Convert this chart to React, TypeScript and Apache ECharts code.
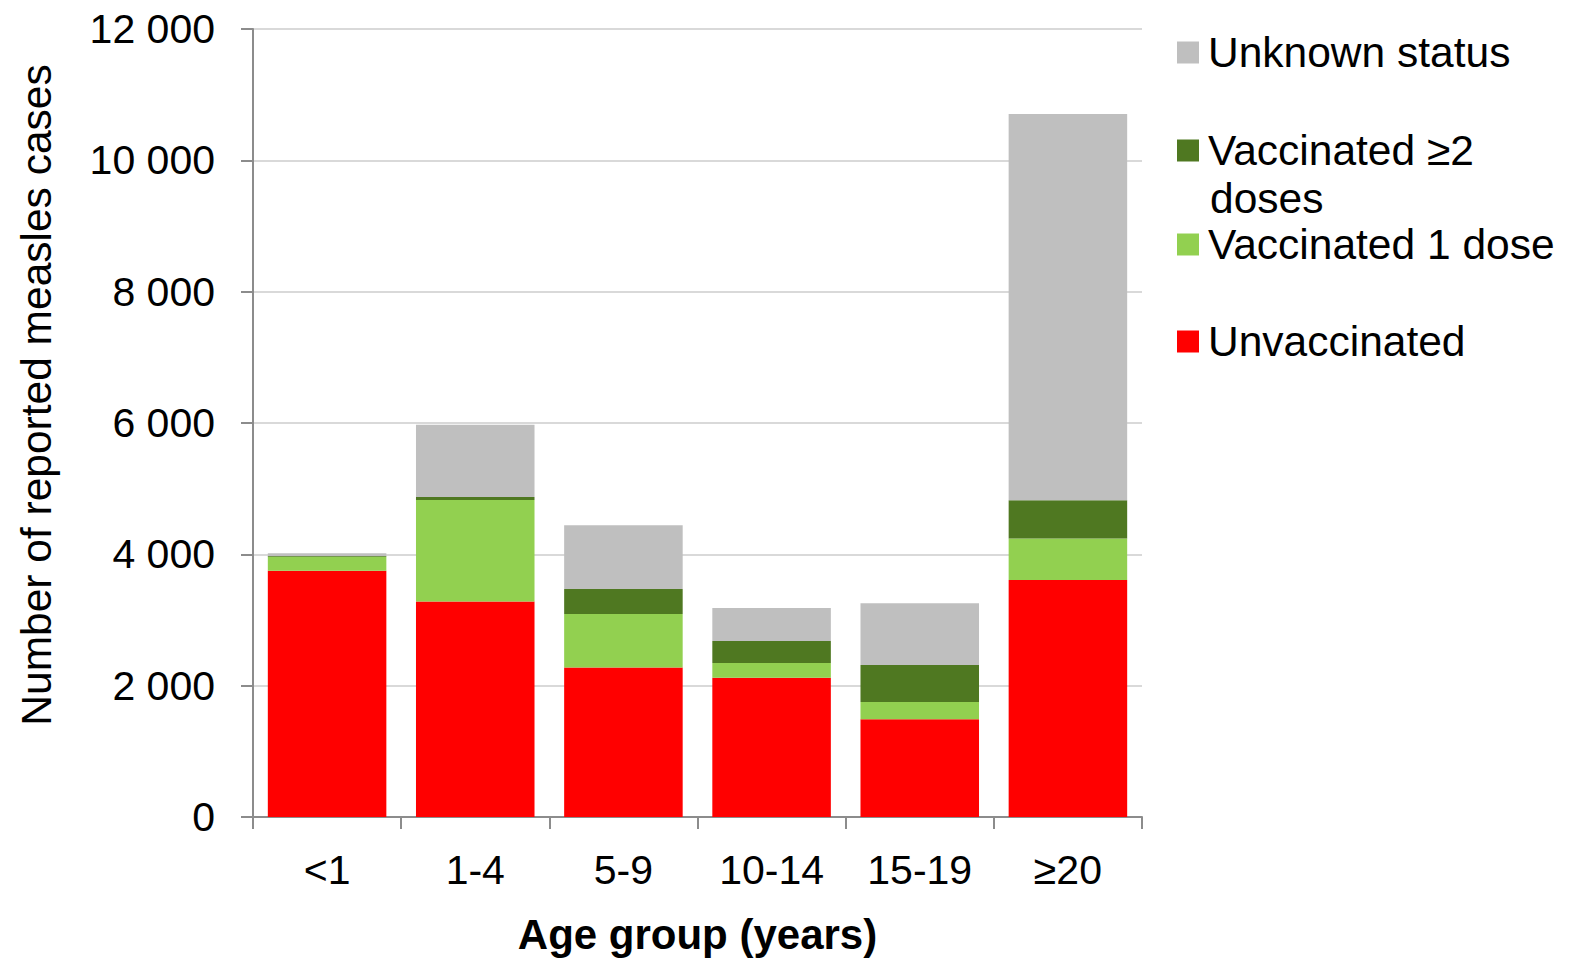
import React, { useEffect, useRef } from "react";
import * as echarts from "echarts";

const categories = ["<1", "1-4", "5-9", "10-14", "15-19", "≥20"];
const unvaccinated = [3750, 3280, 2275, 2120, 1490, 3610];
const vaccinated1 = [215, 1547, 815, 225, 260, 630];
const vaccinated2 = [10, 46, 381, 335, 565, 585];
const unknownStatus = [40, 1100, 970, 503, 940, 5880];

const seriesNames = ["Unvaccinated", "Vaccinated 1 dose", "Vaccinated ≥2 doses", "Unknown status"];
const seriesColors = ["#ff0000", "#92d050", "#4f7821", "#bfbfbf"];
const seriesValues = [unvaccinated, vaccinated1, vaccinated2, unknownStatus];

const FONT = "'Liberation Sans', Arial, sans-serif";

export default function App() {
  const ref = useRef<HTMLDivElement>(null);
  useEffect(() => {
    document.body.style.margin = "0";
    const chart = echarts.init(ref.current!, null, { renderer: "svg" });
    const legendTops: Record<string, number> = {
      "Unknown status": 31,
      "Vaccinated ≥2 doses": 129,
      "Vaccinated 1 dose": 223,
      Unvaccinated: 320,
    };
    const legends = seriesNames.map((n) => ({
      data: [n],
      left: 1177,
      top: legendTops[n],
      padding: 0,
      icon: "rect",
      itemWidth: 22,
      itemHeight: 22,
      selectedMode: false,
      formatter: (name: string) => (name === "Vaccinated ≥2 doses" ? "Vaccinated ≥2" : name),
      textStyle: { fontFamily: FONT, fontSize: 42.5, color: "#000", padding: [0, 0, 0, 4] },
    }));
    chart.setOption({
      animation: false,
      textStyle: { fontFamily: FONT },
      grid: { left: 253, right: 433, top: 29, bottom: 149, containLabel: false },
      legend: legends,
      graphic: [
        {
          type: "text",
          left: 1210,
          top: 177,
          style: { text: "doses", font: `42.5px ${FONT}`, fill: "#000" },
        },
        {
          type: "text",
          x: 36,
          y: 395,
          rotation: Math.PI / 2,
          style: {
            text: "Number of reported measles cases",
            font: `42.5px ${FONT}`,
            fill: "#000",
            align: "center",
            verticalAlign: "middle",
          },
        },
      ],
      xAxis: {
        type: "category",
        data: categories,
        name: "Age group (years)",
        nameLocation: "middle",
        nameGap: 96,
        nameTextStyle: { fontFamily: FONT, fontSize: 42, fontWeight: "bold", color: "#000" },
        axisLine: { lineStyle: { color: "#8c8c8c", width: 2 } },
        axisTick: { show: true, length: 12, lineStyle: { color: "#8c8c8c", width: 2 } },
        axisLabel: { fontFamily: FONT, fontSize: 41, color: "#000", margin: 32 },
      },
      yAxis: {
        type: "value",
        min: 0,
        max: 12000,
        interval: 2000,
        axisLine: { show: true, lineStyle: { color: "#8c8c8c", width: 2 } },
        axisTick: { show: true, length: 12, lineStyle: { color: "#8c8c8c", width: 2 } },
        splitLine: { lineStyle: { color: "#d9d9d9", width: 2 } },
        axisLabel: {
          fontFamily: FONT,
          fontSize: 41,
          color: "#000",
          margin: 38,
          formatter: (v: number) => String(v).replace(/\B(?=(\d{3})+(?!\d))/g, " "),
        },
      },
      series: seriesNames.map((n, i) => ({
        name: n,
        type: "bar",
        stack: "total",
        barCategoryGap: "20%",
        itemStyle: { color: seriesColors[i] },
        data: seriesValues[i],
      })),
    });
    return () => chart.dispose();
  }, []);
  return <div ref={ref} style={{ width: 1575, height: 966 }} />;
}
